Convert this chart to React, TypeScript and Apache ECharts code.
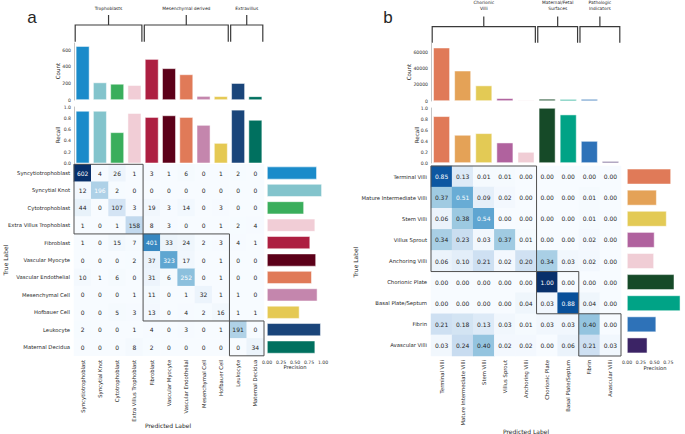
import React, { useEffect, useRef } from "react";
import * as echarts from "echarts";

// ---------- Panel a data ----------
const catsA = [
  "Syncytiotrophoblast", "Syncytial Knot", "Cytotrophoblast", "Extra Villus Trophoblast",
  "Fibroblast", "Vascular Myocyte", "Vascular Endothelial", "Mesenchymal Cell",
  "Hofbauer Cell", "Leukocyte", "Maternal Decidua",
];
const colorsA = [
  "#1a8bca", "#83c4cc", "#3aae5c", "#f1cdd6", "#ad1f41", "#5c0019",
  "#e07a58", "#c486ad", "#e5c953", "#1a457a", "#00705f",
];
const countA = [646, 210, 193, 178, 491, 380, 307, 47, 45, 202, 44];
const recallA = [0.93, 0.93, 0.55, 0.89, 0.82, 0.85, 0.82, 0.68, 0.36, 0.95, 0.77];
const precisionA = [0.89, 0.98, 0.66, 0.86, 0.77, 0.875, 0.8, 0.9, 0.58, 0.96, 0.86];
const matrixA = [
  [602, 4, 26, 1, 3, 1, 6, 0, 1, 2, 0],
  [12, 196, 2, 0, 0, 0, 0, 0, 0, 0, 0],
  [44, 0, 107, 3, 19, 3, 14, 0, 3, 0, 0],
  [1, 0, 1, 158, 8, 3, 0, 0, 1, 2, 4],
  [1, 0, 15, 7, 401, 33, 24, 2, 3, 4, 1],
  [0, 0, 0, 2, 37, 323, 17, 0, 1, 0, 0],
  [10, 1, 6, 0, 31, 6, 252, 0, 1, 0, 0],
  [0, 0, 0, 1, 11, 0, 1, 32, 1, 1, 0],
  [0, 0, 5, 3, 13, 0, 4, 2, 16, 1, 1],
  [2, 0, 0, 1, 4, 0, 3, 0, 1, 191, 0],
  [0, 0, 0, 8, 2, 0, 0, 0, 0, 0, 34],
];
const groupsA = [
  { name: ["Trophoblasts"], from: 0, to: 3 },
  { name: ["Mesenchymal derived"], from: 4, to: 8 },
  { name: ["Extravillus"], from: 9, to: 10 },
];
const countTicksA = [0, 200, 400, 600];

// ---------- Panel b data ----------
const catsB = [
  "Terminal Villi", "Mature Intermediate Villi", "Stem Villi", "Villus Sprout",
  "Anchoring Villi", "Chorionic Plate", "Basal Plate/Septum", "Fibrin", "Avascular Villi",
];
const colorsB = [
  "#e07a58", "#e4a257", "#e3ca55", "#b0629e", "#f0cdd5", "#164a28", "#00a386", "#2e72b8", "#3b2365",
];
const countB = [66200, 37600, 19200, 3400, 1200, 2600, 2200, 2400, 300];
const recallB = [0.85, 0.51, 0.54, 0.37, 0.2, 1.0, 0.88, 0.4, 0.03];
const precisionB = [0.8, 0.54, 0.72, 0.5, 0.49, 0.86, 0.97, 0.53, 0.37];
const matrixB = [
  [0.85, 0.13, 0.01, 0.01, 0.0, 0.0, 0.0, 0.0, 0.0],
  [0.37, 0.51, 0.09, 0.02, 0.0, 0.0, 0.0, 0.01, 0.0],
  [0.06, 0.38, 0.54, 0.0, 0.0, 0.0, 0.0, 0.01, 0.0],
  [0.34, 0.23, 0.03, 0.37, 0.01, 0.0, 0.0, 0.02, 0.0],
  [0.06, 0.1, 0.21, 0.02, 0.2, 0.34, 0.03, 0.02, 0.0],
  [0.0, 0.0, 0.0, 0.0, 0.0, 1.0, 0.0, 0.0, 0.0],
  [0.0, 0.0, 0.0, 0.0, 0.04, 0.03, 0.88, 0.04, 0.0],
  [0.21, 0.18, 0.13, 0.03, 0.01, 0.03, 0.03, 0.4, 0.0],
  [0.03, 0.24, 0.4, 0.02, 0.02, 0.0, 0.06, 0.21, 0.03],
];
const groupsB = [
  { name: ["Chorionic", "Villi"], from: 0, to: 4 },
  { name: ["Maternal/Fetal", "Surfaces"], from: 5, to: 6 },
  { name: ["Pathologic", "Indicators"], from: 7, to: 8 },
];
const countTicksB = [0, 20000, 40000, 60000];

const BLUES = ["#f7fbff", "#deebf7", "#c6dbef", "#9ecae1", "#6baed6", "#4292c6", "#2171b5", "#08519c", "#08306b"];
const FONT = "DejaVu Sans";
const TXT = "#262626";

// ---------- layout ----------
const LA = {
  count: { left: 74, top: 43, width: 190, height: 57 },
  recall: { left: 74, top: 107, width: 190, height: 56.3 },
  heat: { left: 74, top: 164.3, width: 190, height: 191.5 },
  prec: { left: 267, top: 164.3, width: 56, height: 191.5 },
};
const LB = {
  count: { left: 431, top: 43, width: 190, height: 58 },
  recall: { left: 431, top: 108, width: 190, height: 55 },
  heat: { left: 431, top: 166, width: 190, height: 190 },
  prec: { left: 627, top: 166, width: 56, height: 190 },
};

function buildPanel(
  L: any, cats: string[], colors: string[], count: number[], recall: number[], precision: number[],
  matrix: number[][], countMax: number, countTicks: number[], isFrac: boolean, textThr: number,
  gridOffset: number, showPrecOne: boolean
) {
  const grids = [L.count, L.recall, L.heat, L.prec].map((g) => ({ ...g, containLabel: false }));
  const smallLabel = { fontSize: 4.6, color: "#333", fontFamily: FONT };
  const hiddenCat = (data: string[], inverse = false) => ({
    type: "category", data, inverse, show: false,
  });
  const xAxes: any[] = [
    { ...hiddenCat(cats), gridIndex: gridOffset },
    { ...hiddenCat(cats), gridIndex: gridOffset + 1 },
    {
      type: "category", data: cats, gridIndex: gridOffset + 2,
      axisLine: { show: false }, axisTick: { show: false }, splitLine: { show: false },
      axisLabel: { rotate: 90, fontSize: 5.3, color: TXT, fontFamily: FONT, margin: 4, interval: 0 },
    },
    {
      type: "value", min: 0, max: 1, interval: 0.25, gridIndex: gridOffset + 3,
      axisLine: { show: false }, axisTick: { show: false }, splitLine: { show: false },
      axisLabel: {
        ...smallLabel, margin: 4,
        formatter: (v: number) => (v === 1 && !showPrecOne ? "" : v.toFixed(2)),
      },
    },
  ];
  const yAxes: any[] = [
    {
      type: "value", min: 0, max: countMax, interval: countTicks[1] - countTicks[0], gridIndex: gridOffset,
      axisLine: { show: true, lineStyle: { color: "#b5b5b5", width: 0.8 } },
      axisTick: { show: false }, splitLine: { show: false },
      axisLabel: { ...smallLabel, margin: 3, formatter: (v: number) => (countTicks.includes(v) ? String(v) : "") },
    },
    {
      type: "value", min: 0, max: 1, interval: 0.2, gridIndex: gridOffset + 1,
      axisLine: { show: true, lineStyle: { color: "#b5b5b5", width: 0.8 } },
      axisTick: { show: false }, splitLine: { show: false },
      axisLabel: { ...smallLabel, margin: 3, formatter: (v: number) => v.toFixed(1) },
    },
    {
      type: "category", data: cats, inverse: true, gridIndex: gridOffset + 2,
      axisLine: { show: false }, axisTick: { show: false }, splitLine: { show: false },
      axisLabel: { fontSize: 5.3, color: TXT, fontFamily: FONT, margin: 4, interval: 0 },
    },
    { ...hiddenCat(cats, true), gridIndex: gridOffset + 3 },
  ];
  const barStyle = (i: number) => ({
    color: colors[i], borderColor: "rgba(255,255,255,0.85)", borderWidth: 0.6,
  });
  const maxV = Math.max(...matrix.flat());
  const heatData = matrix.flatMap((row, r) =>
    row.map((v, c) => ({
      value: [c, r, v],
      label: { color: v / maxV > textThr ? "#ffffff" : TXT },
    }))
  );
  const series: any[] = [
    {
      type: "bar", xAxisIndex: gridOffset, yAxisIndex: gridOffset, barCategoryGap: "21%",
      data: count.map((v, i) => ({ value: v, itemStyle: barStyle(i) })), silent: true,
    },
    {
      type: "bar", xAxisIndex: gridOffset + 1, yAxisIndex: gridOffset + 1, barCategoryGap: "21%",
      data: recall.map((v, i) => ({ value: v, itemStyle: barStyle(i) })), silent: true,
    },
    {
      type: "heatmap", xAxisIndex: gridOffset + 2, yAxisIndex: gridOffset + 2, data: heatData,
      label: {
        show: true, fontSize: 6, fontFamily: FONT,
        formatter: (p: any) => (isFrac ? p.value[2].toFixed(2) : String(p.value[2])),
      },
      emphasis: { disabled: true }, silent: true, progressive: 0,
    },
    {
      type: "bar", xAxisIndex: gridOffset + 3, yAxisIndex: gridOffset + 3, barCategoryGap: "26%",
      data: precision.map((v, i) => ({ value: v, itemStyle: barStyle(i) })), silent: true,
    },
  ];
  return { grids, xAxes, yAxes, series, maxV };
}

function bracketGraphics(L: any, n: number, groups: any[], yLine: number, yBottom: number, yTick: number, yText: number) {
  const cw = L.heat.width / n;
  const out: any[] = [];
  groups.forEach((g) => {
    const x1 = L.heat.left + g.from * cw + 1.2;
    const x2 = L.heat.left + (g.to + 1) * cw - 1.2;
    const xm = (x1 + x2) / 2;
    out.push({
      type: "polyline", silent: true,
      shape: { points: [[x1, yBottom], [x1, yLine], [x2, yLine], [x2, yBottom]] },
      style: { stroke: "#3a3a3a", lineWidth: 1.2, fill: "none" },
    });
    out.push({
      type: "line", silent: true,
      shape: { x1: xm, y1: yLine, x2: xm, y2: yTick },
      style: { stroke: "#3a3a3a", lineWidth: 1.2 },
    });
    const lines = g.name.length;
    g.name.forEach((t: string, k: number) => {
      out.push({
        type: "text", silent: true, x: xm, y: yText - (lines - 1 - k) * 5.3,
        style: { text: t, fontSize: 4.4, fill: TXT, fontFamily: FONT, align: "center", verticalAlign: "middle" },
      });
    });
  });
  return out;
}

function blockBoxes(L: any, n: number, groups: any[]) {
  const cw = L.heat.width / n;
  const ch = L.heat.height / n;
  return groups.map((g) => ({
    type: "rect", silent: true, z: 100,
    shape: {
      x: L.heat.left + g.from * cw, y: L.heat.top + g.from * ch,
      width: (g.to - g.from + 1) * cw, height: (g.to - g.from + 1) * ch,
    },
    style: { fill: "none", stroke: "#505050", lineWidth: 1 },
  }));
}

function txt(text: string, x: number, y: number, fontSize: number, rotate = false, font = FONT) {
  return {
    type: "text", silent: true, x, y, rotation: rotate ? Math.PI / 2 : 0,
    style: { text, fontSize, fill: TXT, fontFamily: font, align: "center", verticalAlign: "middle" },
  };
}

export default function App() {
  const ref = useRef<HTMLDivElement>(null);
  useEffect(() => {
    if (!ref.current) return;
    const chart = echarts.init(ref.current, undefined, { renderer: "svg" });
    const a = buildPanel(LA, catsA, colorsA, countA, recallA, precisionA, matrixA, 684, countTicksA, false, 0.325, 0, true);
    const b = buildPanel(LB, catsB, colorsB, countB, recallB, precisionB, matrixB, 72000, countTicksB, true, 0.45, 4, false);
    const graphic: any[] = [
      ...bracketGraphics(LA, catsA.length, groupsA, 25, 41.7, 15, 8.5),
      ...bracketGraphics(LB, catsB.length, groupsB, 26.7, 42.7, 16.5, 8.2),
      ...blockBoxes(LA, catsA.length, groupsA),
      ...blockBoxes(LB, catsB.length, groupsB),
      txt("a", 32, 17, 17, false, "Liberation Sans"),
      txt("b", 388, 17, 17, false, "Liberation Sans"),
      txt("Count", 58, 71, 5.6, true),
      txt("Recall", 58, 135, 5.6, true),
      txt("True Label", 5, 260, 6, true),
      txt("Predicted Label", 168, 425, 6),
      txt("Precision", 295, 366.5, 5.2),
      txt("Count", 409, 72, 5.6, true),
      txt("Recall", 417, 135, 5.6, true),
      txt("True Label", 355, 262, 6, true),
      txt("Predicted Label", 526, 431, 6),
      txt("Precision", 655, 368, 5.2),
    ];
    chart.setOption({
      animation: false,
      backgroundColor: "#ffffff",
      grid: [...a.grids, ...b.grids],
      xAxis: [...a.xAxes, ...b.xAxes],
      yAxis: [...a.yAxes, ...b.yAxes],
      visualMap: [
        { type: "continuous", show: false, min: 0, max: a.maxV, dimension: 2, seriesIndex: 2, inRange: { color: BLUES } },
        { type: "continuous", show: false, min: 0, max: b.maxV, dimension: 2, seriesIndex: 6, inRange: { color: BLUES } },
      ],
      series: [...a.series, ...b.series],
      graphic,
    });
    return () => chart.dispose();
  }, []);
  return (
    <div
      ref={ref}
      style={{ position: "fixed", left: 0, top: 0, width: 685, height: 434, background: "#fff" }}
    />
  );
}
